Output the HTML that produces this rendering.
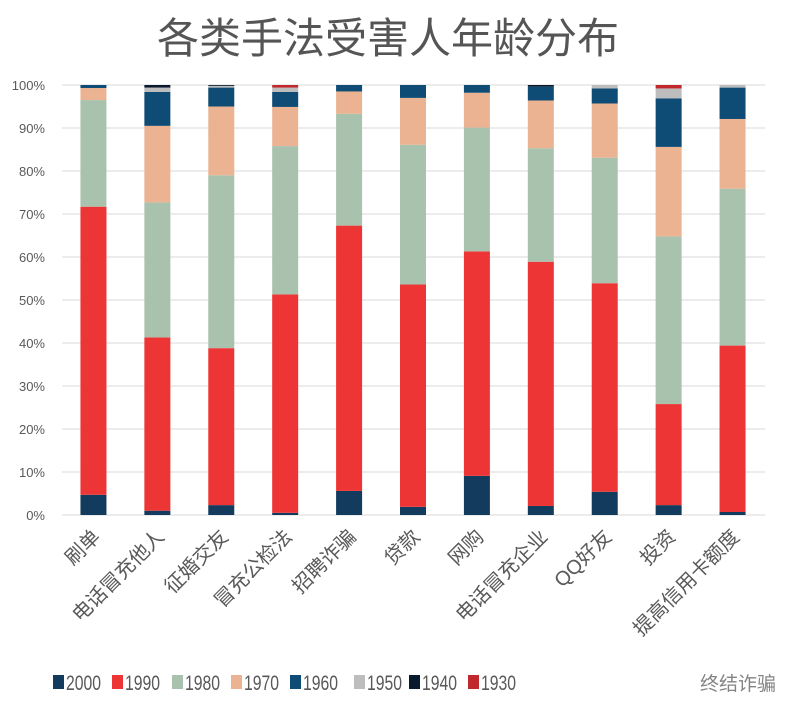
<!DOCTYPE html>
<html><head><meta charset="utf-8"><style>
body{margin:0;background:#fff;}
svg text{font-family:"Liberation Sans","Noto Sans CJK SC",sans-serif;}
</style></head><body>
<svg id="chart" width="797" height="718" xmlns="http://www.w3.org/2000/svg">
<text x="388" y="53" text-anchor="middle" font-size="42" fill="#555">各类手法受害人年龄分布</text>
<g id="grid"></g><g id="bars"></g><g id="xlabels"></g><g id="legend"></g>
<text x="700" y="690" font-size="19" fill="#666" opacity="0.8">终结诈骗</text>
</svg>
<script>
const categories=["刷单","电话冒充他人","征婚交友","冒充公检法","招聘诈骗","贷款","网购","电话冒充企业","QQ好友","投资","提高信用卡额度"];
const seriesNames=["2000","1990","1980","1970","1960","1950","1940","1930"];
const s2000=[4.7,1.0,2.3,0.5,5.6,1.9,9.1,2.1,5.4,2.3,0.7];
const s1990=[67.0,40.3,36.5,50.8,61.7,51.7,52.2,56.8,48.5,23.5,38.7];
const s1980=[24.8,31.4,40.2,34.5,26.0,32.5,28.8,26.4,29.2,39.0,36.5];
const s1970=[2.8,17.8,16.0,9.1,5.2,10.9,8.1,11.1,12.6,20.8,16.2];
const s1960=[0.7,7.9,4.4,3.5,1.5,3.0,1.8,3.2,3.5,11.3,7.3];
const s1950=[0,1.0,0.4,1.0,0,0,0,0,0.8,2.3,0.6];
const s1940=[0,0.6,0.2,0,0,0,0,0.4,0,0,0];
const s1930=[0,0,0,0.6,0,0,0,0,0,0.8,0];
const yTicks=[0,10,20,30,40,50,60,70,80,90,100];
const series=[s2000,s1990,s1980,s1970,s1960,s1950,s1940,s1930];
const colors=["#133b5e","#ee3535","#a9c2ad","#ebb391","#0f4c75","#bdbdbd","#0a1a2e","#c0282e"];
const NS="http://www.w3.org/2000/svg";
const y0=515,y1=85,xL=62,xR=765;
const yS=v=>y0-(y0-y1)*v/100;
const band=(xR-xL)/categories.length;
const xC=i=>xL+band*(i+0.5)-0.5;
const bw=26;
function mk(t,a,p){const e=document.createElementNS(NS,t);for(const k in a)e.setAttribute(k,a[k]);p.appendChild(e);return e;}
const grid=document.getElementById('grid');
yTicks.forEach(t=>{
 const l=mk('line',{x1:xL,x2:xR,y1:yS(t),y2:yS(t),stroke:'#d9d9d9','stroke-width':1},grid);
 
 
 const tx=mk('text',{x:45,y:yS(t)+5,'text-anchor':'end','font-size':13,fill:'#595959'},grid);
 tx.textContent=t+'%';
 
 
});
const bars=document.getElementById('bars');
categories.forEach((c,i)=>{
 let cum=0;
 series.forEach((s,j)=>{
  const v=s[i]; if(v<=0){return;}
  const r=mk('rect',{x:xC(i)-bw/2,y:yS(cum+v),width:bw,height:yS(cum)-yS(cum+v),fill:colors[j]},bars);
  
  
  cum+=v;
 });
 const t=mk('text',{x:0,y:0,'text-anchor':'end','font-size':20,fill:'#595959',transform:`translate(${xC(i)+8},${538}) rotate(-45)`},document.getElementById('xlabels'));
 t.textContent=c;
 
 
});
const lx=[53,112,172,231,290,354,409,468];
const lg=document.getElementById('legend');
seriesNames.forEach((n,j)=>{
 const r=mk('rect',{x:lx[j],y:675,width:11,height:14,fill:colors[j]},lg);
 
 
 const t=mk('text',{x:lx[j]+13,y:690,'font-size':21,fill:'#595959',textLength:35,lengthAdjust:'spacingAndGlyphs'},lg);
 t.textContent=n;
 
 
});
</script>
</body></html>
